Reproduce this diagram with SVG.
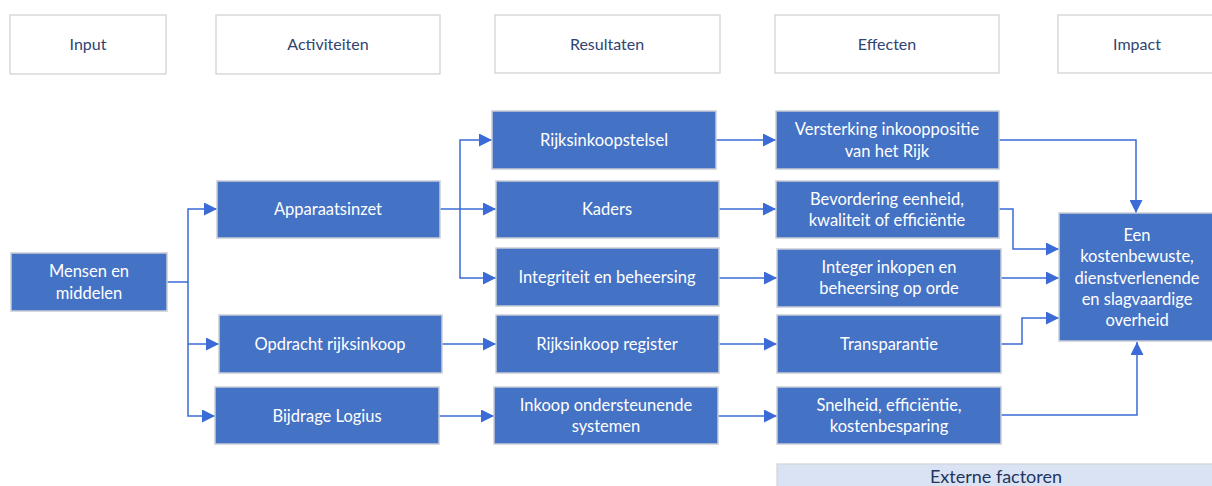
<svg xmlns="http://www.w3.org/2000/svg" width="1212" height="486" viewBox="0 0 1212 486">
<style>
.hdr{fill:#ffffff;stroke:#d3d3d3;stroke-width:1.3}
.hdrt{font-family:"Lato","Liberation Sans",sans-serif;font-size:16px;fill:#2f4470;text-anchor:middle}
.box{fill:#4472c4;stroke:#c9cdd6;stroke-width:1.5}
.bt{font-family:"Lato","Liberation Sans",sans-serif;font-size:16.5px;fill:#ffffff;text-anchor:middle}
.ext{fill:#dae3f3;stroke:#d3d6dc;stroke-width:1.3}
.extt{font-family:"Lato","Liberation Sans",sans-serif;font-size:18px;fill:#1f3560;text-anchor:middle}
.c{fill:none;stroke:#3a6bd6;stroke-width:1.5;marker-end:url(#ah)}
</style>
<defs>
<marker id="ah" markerUnits="userSpaceOnUse" markerWidth="13" markerHeight="13" viewBox="0 0 13 13" refX="13" refY="6.5" orient="auto">
<path d="M0,0 L13,6.5 L0,13 Z" fill="#3a6bd6"/>
</marker>
</defs>
<rect width="1212" height="486" fill="#ffffff"/>

<g id="hdr-input"><rect class="hdr" x="10" y="15" width="156" height="59"/><text class="hdrt" x="88" y="50">Input</text></g>
<g id="hdr-activiteiten"><rect class="hdr" x="216" y="15" width="224" height="59"/><text class="hdrt" x="328" y="50">Activiteiten</text></g>
<g id="hdr-resultaten"><rect class="hdr" x="495" y="15" width="225" height="58"/><text class="hdrt" x="607" y="50">Resultaten</text></g>
<g id="hdr-effecten"><rect class="hdr" x="775" y="15" width="224" height="58"/><text class="hdrt" x="887" y="50">Effecten</text></g>
<g id="hdr-impact"><rect class="hdr" x="1058" y="15" width="160" height="58"/><text class="hdrt" x="1137" y="50">Impact</text></g>

<g id="connectors">
<path class="c" d="M167,282 H188 V209 H217"/>
<path class="c" d="M188,282 V344 H219"/>
<path class="c" d="M188,344 V416 H215"/>
<path class="c" d="M440,209 H496"/>
<path class="c" d="M460,209 V140 H492"/>
<path class="c" d="M460,209 V278 H496"/>
<path class="c" d="M442,344 H496"/>
<path class="c" d="M439,416 H494"/>
<path class="c" d="M716,140 H776"/>
<path class="c" d="M719,209 H776"/>
<path class="c" d="M719,278 H777"/>
<path class="c" d="M719,344 H777"/>
<path class="c" d="M718,416 H777"/>
<path class="c" d="M999,140 H1136 V213"/>
<path class="c" d="M999,209 H1013 V249 H1059"/>
<path class="c" d="M1001,278 H1059"/>
<path class="c" d="M1001,344 H1022 V318 H1059"/>
<path class="c" d="M1001,415 H1137 V342"/>
</g>

<g id="mensen"><rect class="box" x="11" y="253" width="156" height="58"/><text class="bt" x="89" y="277">Mensen en</text><text class="bt" x="89" y="299">middelen</text></g>
<g id="apparaatsinzet"><rect class="box" x="217" y="181" width="223" height="57"/><text class="bt" x="328" y="215">Apparaatsinzet</text></g>
<g id="opdracht"><rect class="box" x="219" y="315" width="223" height="58"/><text class="bt" x="330" y="350">Opdracht rijksinkoop</text></g>
<g id="bijdrage"><rect class="box" x="215" y="387" width="224" height="57"/><text class="bt" x="327" y="422">Bijdrage Logius</text></g>

<g id="rijksinkoopstelsel"><rect class="box" x="492" y="111" width="224" height="58"/><text class="bt" x="604" y="146">Rijksinkoopstelsel</text></g>
<g id="kaders"><rect class="box" x="496" y="181" width="223" height="57"/><text class="bt" x="607" y="215">Kaders</text></g>
<g id="integriteit"><rect class="box" x="496" y="248" width="223" height="58"/><text class="bt" x="607" y="283">Integriteit en beheersing</text></g>
<g id="register"><rect class="box" x="496" y="315" width="223" height="58"/><text class="bt" x="607" y="350">Rijksinkoop register</text></g>
<g id="inkoop"><rect class="box" x="494" y="387" width="224" height="57"/><text class="bt" x="606" y="411">Inkoop ondersteunende</text><text class="bt" x="606" y="432">systemen</text></g>

<g id="versterking"><rect class="box" x="776" y="111" width="223" height="58"/><text class="bt" x="887" y="135">Versterking inkooppositie</text><text class="bt" x="887" y="157">van het Rijk</text></g>
<g id="bevordering"><rect class="box" x="776" y="181" width="223" height="57"/><text class="bt" x="887" y="205">Bevordering eenheid,</text><text class="bt" x="887" y="226">kwaliteit of efficiëntie</text></g>
<g id="integer"><rect class="box" x="777" y="249" width="224" height="58"/><text class="bt" x="889" y="273">Integer inkopen en</text><text class="bt" x="889" y="294">beheersing op orde</text></g>
<g id="transparantie"><rect class="box" x="777" y="315" width="224" height="58"/><text class="bt" x="889" y="350">Transparantie</text></g>
<g id="snelheid"><rect class="box" x="777" y="387" width="224" height="57"/><text class="bt" x="889" y="411">Snelheid, efficiëntie,</text><text class="bt" x="889" y="432">kostenbesparing</text></g>

<g id="impact"><rect class="box" x="1059" y="213" width="160" height="128"/>
<text class="bt" x="1137" y="241">Een</text>
<text class="bt" x="1137" y="262">kostenbewuste,</text>
<text class="bt" x="1137" y="284">dienstverlenende</text>
<text class="bt" x="1137" y="305">en slagvaardige</text>
<text class="bt" x="1137" y="326">overheid</text>
</g>

<g id="externe"><rect class="ext" x="777" y="464" width="440" height="30"/><text class="extt" x="996" y="483">Externe factoren</text></g>
</svg>
